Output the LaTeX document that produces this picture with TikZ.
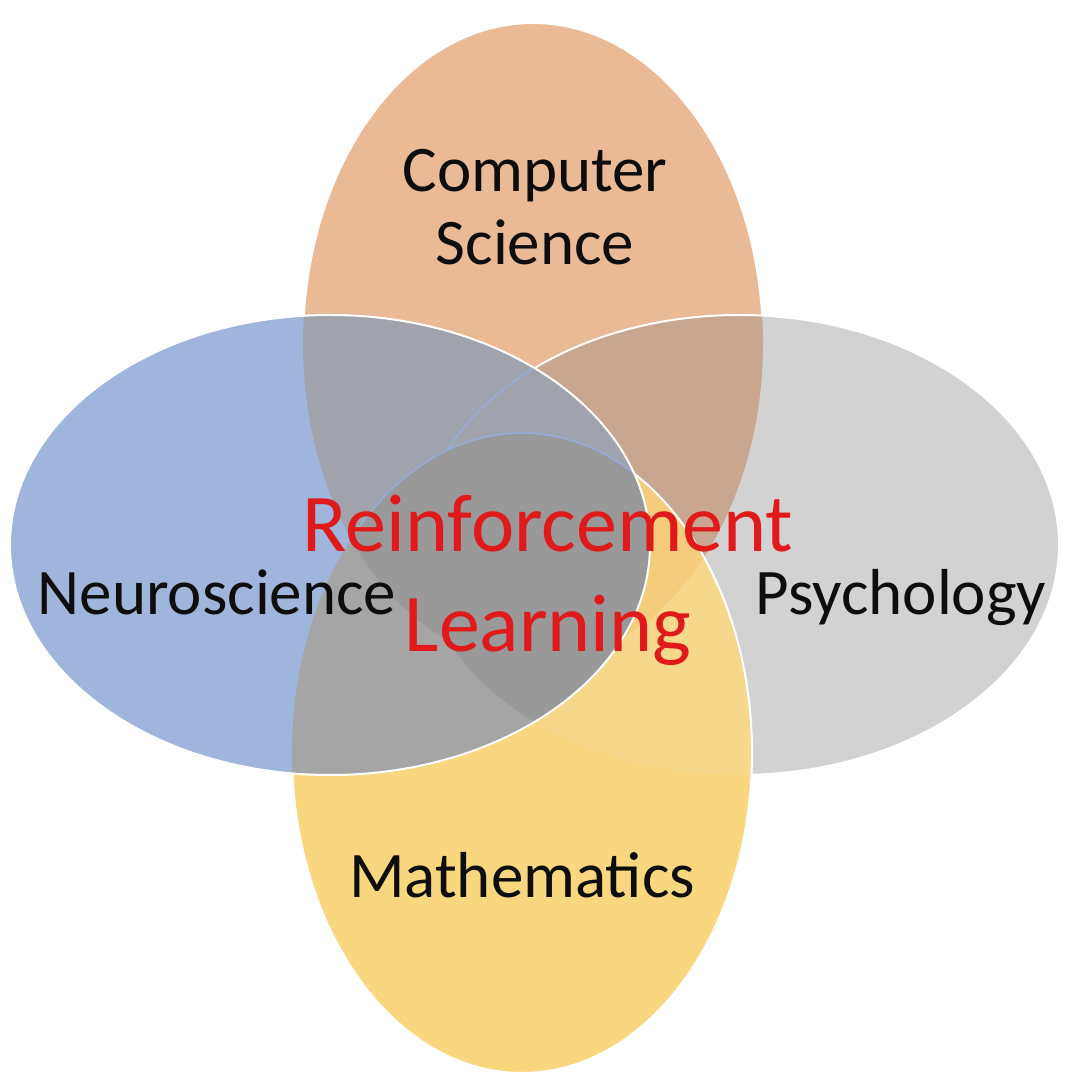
\documentclass[tikz,border=0pt]{standalone}
\usepackage{fontspec}
\setmainfont{Carlito}

\definecolor{csorange}{RGB}{234,185,150}
\definecolor{neuroblue}{RGB}{160,181,220}
\definecolor{psygray}{RGB}{210,210,210}
\definecolor{mathyellow}{RGB}{249,215,126}
\definecolor{cspsy}{RGB}{200,166,144}
\definecolor{mathpsy}{RGB}{246,216,140}
\definecolor{mathcspsy}{RGB}{244,204,124}
\definecolor{neurocs}{RGB}{160,163,172}
\definecolor{neuromath}{RGB}{165,165,166}
\definecolor{coregray}{RGB}{153,153,153}
\definecolor{seamblue}{RGB}{150,172,218}
\definecolor{inkblack}{RGB}{13,13,13}
\definecolor{rlred}{RGB}{224,26,26}

\begin{document}
\begin{tikzpicture}[x=1pt, y=1pt,
  fieldtext/.style={text=inkblack, font=\fontsize{65}{73}\selectfont, align=center, inner sep=0pt, anchor=base},
  maintext/.style={text=rlred, font=\fontsize{82}{100}\selectfont, align=center, inner sep=0pt, anchor=base},
  rim/.style={draw=white, line width=2pt},
  seam/.style={draw=seamblue, line width=1.5pt}]
\def\Rl{320}
\def\Rs{230}

\coordinate (CS) at (533,749);
\coordinate (NE) at (330,547);
\coordinate (PS) at (739,547);
\coordinate (MA) at (522,339);

\def\CSpath{(CS) ellipse [x radius=\Rs, y radius=\Rl]}
\def\NEpath{(NE) ellipse [x radius=\Rl, y radius=\Rs]}
\def\PSpath{(PS) ellipse [x radius=\Rl, y radius=\Rs]}
\def\MApath{(MA) ellipse [x radius=\Rs, y radius=\Rl]}

\useasboundingbox (0,0) rectangle (1079,1092);

% computer science
\fill[csorange] \CSpath;
\draw[rim] \CSpath;

% psychology
\fill[psygray] \PSpath;
\begin{scope}
  \clip \CSpath;
  \fill[cspsy] \PSpath;
\end{scope}
\draw[rim] \PSpath;

% mathematics
\fill[mathyellow] \MApath;
\begin{scope}
  \clip \MApath;
  \fill[mathpsy] \PSpath;
  \clip \PSpath;
  \fill[mathcspsy] \CSpath;
\end{scope}
\draw[rim] \MApath;

% neuroscience
\fill[neuroblue] \NEpath;
\begin{scope}
  \clip \NEpath;
  \fill[neurocs] \CSpath;
  \draw[seam] \PSpath;
  \fill[neuromath] \MApath;
  \clip \MApath;
  \fill[coregray] \CSpath;
  \fill[coregray] \PSpath;
\end{scope}
\begin{scope}
  \clip \NEpath;
  \clip (0,547) rectangle (1079,1092);
  \draw[seam] \MApath;
\end{scope}
\draw[rim] \NEpath;

% labels
\node[fieldtext] (cs) at (535,827) {Computer\\Science};
\node[fieldtext] (neuro) at (217,477) {Neuroscience};
\node[fieldtext] (psy) at (901,477) {Psychology};
\node[fieldtext] (math) at (522,194) {Mathematics};
\node[maintext] (rl) at (548,440) {Reinforcement\\Learning};
\end{tikzpicture}
\end{document}
